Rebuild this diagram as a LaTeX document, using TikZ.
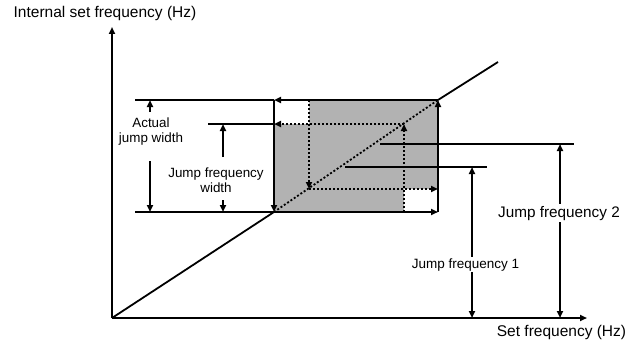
\documentclass[tikz,border=0pt]{standalone}
\usepackage{fontspec}
\setmainfont{Liberation Sans}
\usetikzlibrary{arrows.meta}
\begin{document}
\begin{tikzpicture}[x=1pt,y=-1pt,
  ln/.style={line width=1.8pt},
  dl/.style={line width=1.8pt, dash pattern=on 2pt off 2pt},
  arr/.style={-{Triangle[length=7pt,width=6pt]}},
  darr/.style={{Triangle[length=7pt,width=6pt]}-{Triangle[length=7pt,width=6pt]}},
  axlbl/.style={font=\fontsize{15.5}{18}\selectfont, inner sep=0pt, anchor=base},
  smlbl/.style={font=\fontsize{13.4}{15}\selectfont, inner sep=0pt, align=center},
  jflbl/.style={fill=white, inner sep=1.5pt, anchor=base}
]
\useasboundingbox (0,0) rectangle (639,345);
% coordinates
\coordinate (O) at (112,318);
\coordinate (Ytip) at (112,27);
\coordinate (Xtip) at (587,318);
\coordinate (A) at (274,212);
\coordinate (B) at (438,212);
\coordinate (C) at (438,100);
\coordinate (D) at (274,100);
\coordinate (E) at (498,62);
\coordinate (P1) at (309,100);
\coordinate (P2) at (309,189);
\coordinate (P3) at (438,189);
\coordinate (Q1) at (404,212);
\coordinate (Q2) at (404,124);
\coordinate (Q3) at (274,124);
\coordinate (W1) at (404,189);
% region
\fill[black!30] (A) rectangle (C);
\fill[white] (D) rectangle (Q2 -| P1);
\fill[white] (W1) rectangle (B);
% dotted paths
\draw[dl] (A) -- (C);
\draw[dl,arr] (P1) -- (P2);
\draw[dl,arr] (P2) -- (P3);
\draw[dl,arr] (Q1) -- (Q2);
\draw[dl,arr] (Q2) -- (Q3);
% axes
\draw[ln,arr] (O) -- (Ytip);
\draw[ln,arr] (O) -- (Xtip);
% characteristic
\draw[ln] (O) -- (A);
\draw[ln] (C) -- (E);
% box edges
\draw[ln,arr] (A) -- (B);
\draw[ln,arr] (B) -- (C);
\draw[ln,arr] (C) -- (D);
\draw[ln,arr] (D) -- (A);
% left dimension lines
\coordinate (L1) at (135,100);
\coordinate (L2) at (208,124);
\coordinate (L3) at (135,212);
\draw[ln] (L1) -- (D);
\draw[ln] (L2) -- (Q3);
\draw[ln] (L3) -- (A);
\node[smlbl] (ajw) at (151,132) {Actual\\jump width};
\coordinate (a1) at (150,112);
\coordinate (a2) at (150,100);
\coordinate (a3) at (150,161);
\coordinate (a4) at (150,212);
\draw[ln,arr] (a1) -- (a2);
\draw[ln,arr] (a3) -- (a4);
\node[smlbl] (jfw) at (216,180) {Jump frequency\\width};
\coordinate (b1) at (223,157);
\coordinate (b2) at (223,124);
\coordinate (b3) at (223,200);
\coordinate (b4) at (223,212);
\draw[ln,arr] (b1) -- (b2);
\draw[ln,arr] (b3) -- (b4);
% right dimension lines
\coordinate (R1) at (380,144);
\coordinate (R2) at (574,144);
\coordinate (R3) at (345,167);
\coordinate (R4) at (487,167);
\draw[ln] (R1) -- (R2);
\draw[ln] (R3) -- (R4);
\coordinate (j1t) at (472,167);
\coordinate (j1b) at (472,318);
\coordinate (j2t) at (560,144);
\coordinate (j2b) at (560,318);
\draw[ln,darr] (j1t) -- (j1b);
\draw[ln,darr] (j2t) -- (j2b);
\node[jflbl, font=\fontsize{13.5}{15}\selectfont] (jf1) at (465.5,268) {Jump frequency 1};
\node[jflbl, font=\fontsize{15.3}{17}\selectfont] (jf2) at (559,217) {Jump frequency 2};
% axis labels
\node[axlbl] (ylbl) at (105,18) {Internal set frequency (Hz)};
\node[axlbl] (xlbl) at (561.5,336) {Set frequency (Hz)};
\end{tikzpicture}
\end{document}
